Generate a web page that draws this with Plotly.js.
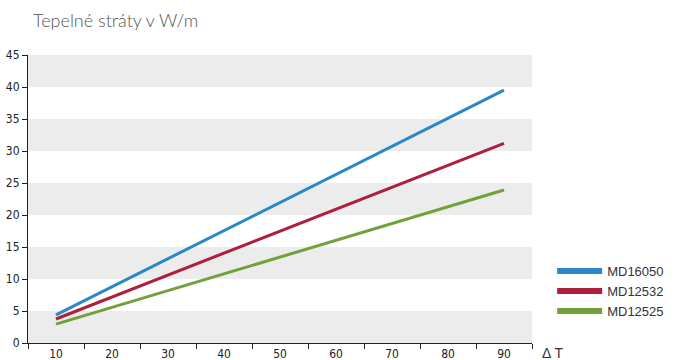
<!DOCTYPE html>
<html>
<head>
<meta charset="utf-8">
<script src="https://cdn.plot.ly/plotly-3.0.1.min.js"></script>
<style>html,body{margin:0;padding:0;background:#fff;}#chart{width:678px;height:360px;}</style>
</head>
<body>
<div id="chart"></div>
<script>
const deltaT = [10, 90];
const md16050 = [4.4, 39.5];
const md12532 = [3.75, 31.2];
const md12525 = [2.95, 23.9];
const seriesNames = ['MD16050', 'MD12532', 'MD12525'];
const xTickVals = [10, 20, 30, 40, 50, 60, 70, 80, 90];
const yTickVals = [0, 5, 10, 15, 20, 25, 30, 35, 40, 45];

const colors = ['#2a88c9', '#ae1f3d', '#72a03b'];
const series = [md16050, md12532, md12525];

const traces = [];
series.forEach((s, i) => {
  traces.push({x: deltaT, y: s, type: 'scatter', mode: 'lines', name: seriesNames[i],
    line: {color: colors[i], width: 3}, showlegend: false, hoverinfo: 'skip'});
});
series.forEach((s, i) => {
  traces.push({x: [null], y: [null], type: 'scatter', mode: 'lines', name: seriesNames[i],
    line: {color: colors[i], width: 6}, showlegend: true});
});

const shapes = [];
for (let k = 0; k < yTickVals.length - 1; k += 2) {
  shapes.push({type: 'rect', xref: 'paper', yref: 'y', x0: 0, x1: 1,
    y0: yTickVals[k], y1: yTickVals[k + 1], fillcolor: '#ebeceb', line: {width: 0}, layer: 'below'});
}

const tickFont = {family: '"Liberation Sans Narrow", "DejaVu Sans Condensed", Arial, sans-serif', size: 12, color: '#222'};

const layout = {
  width: 678, height: 360,
  margin: {l: 28, r: 146, t: 55, b: 17, autoexpand: false},
  paper_bgcolor: '#fff', plot_bgcolor: 'rgba(0,0,0,0)',
  title: {text: 'Tepelné stráty v W/m', x: 33/678, xanchor: 'left', y: 1 - 21/360, yanchor: 'middle',
    font: {family: 'Lato, "Open Sans", sans-serif', size: 18, color: '#555', weight: 300}},
  xaxis: {type: 'linear', range: [5, 95], tickvals: xTickVals, ticktext: xTickVals.map(String),
    ticks: '', showgrid: false, zeroline: false, showline: true, linecolor: '#222', linewidth: 1,
    tickfont: tickFont, ticklabelstandoff: 0,
    minor: {tick0: 5, dtick: 10, ticks: 'outside', ticklen: 5, tickcolor: '#222', showgrid: false}},
  yaxis: {range: [0, 45], tickvals: yTickVals, ticks: 'outside', ticklen: 5, tickcolor: '#222',
    showgrid: false, zeroline: false, showline: true, linecolor: '#222', linewidth: 1,
    tickfont: tickFont, ticklabelstandoff: 0},
  shapes: shapes,
  showlegend: true,
  legend: {x: 1.04, xanchor: 'left', y: 0.18, yanchor: 'middle', itemwidth: 45,
    font: {family: 'Arial, "Liberation Sans", sans-serif', size: 13, color: '#333'},
    bgcolor: 'rgba(0,0,0,0)', tracegroupgap: 0},
  annotations: [{text: 'Δ T', xref: 'paper', yref: 'paper', x: 1.015, y: 0, yshift: -10,
    xanchor: 'left', yanchor: 'middle', showarrow: false,
    font: {family: 'Arial, "Liberation Sans", sans-serif', size: 14, color: '#333'}}]
};

Plotly.newPlot('chart', traces, layout, {displayModeBar: false, staticPlot: true});
</script>
</body>
</html>
